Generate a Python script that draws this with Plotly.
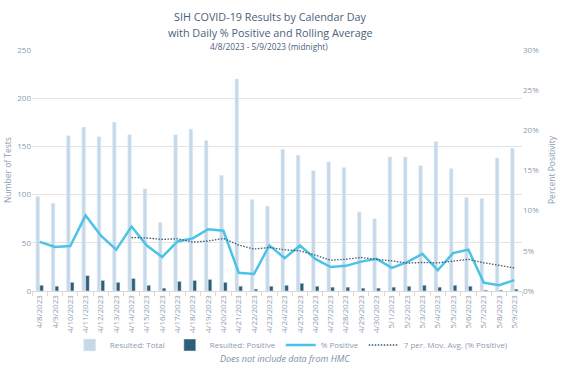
import plotly.graph_objects as go

dates = ["4/8/2023","4/9/2023","4/10/2023","4/11/2023","4/12/2023","4/13/2023","4/14/2023",
         "4/15/2023","4/16/2023","4/17/2023","4/18/2023","4/19/2023","4/20/2023","4/21/2023",
         "4/22/2023","4/23/2023","4/24/2023","4/25/2023","4/26/2023","4/27/2023","4/28/2023",
         "4/29/2023","4/30/2023","5/1/2023","5/2/2023","5/3/2023","5/4/2023","5/5/2023",
         "5/6/2023","5/7/2023","5/8/2023","5/9/2023"]
total = [98,91,161,170,160,175,162,106,71,162,168,156,120,220,95,88,147,141,125,134,128,82,75,
         139,139,130,155,127,97,96,138,148]
positive = [6,5,9,16,11,9,13,6,3,10,11,12,9,5,2,5,6,8,5,4,4,3,3,4,5,6,4,6,5,1,1,2]
pct_positive = [6.12,5.49,5.59,9.41,6.88,5.14,8.02,5.66,4.23,6.17,6.55,7.69,7.50,2.27,2.11,5.68,
                4.08,5.67,4.00,2.99,3.13,3.66,4.00,2.88,3.60,4.62,2.58,4.72,5.15,1.04,0.72,1.35]
mov_avg = [None,None,None,None,None,None,6.66,6.60,6.42,6.50,6.09,6.21,6.55,5.72,5.22,5.42,
           5.13,5.00,4.47,3.83,3.95,4.17,3.93,3.76,3.47,3.55,3.50,3.72,3.94,3.51,3.20,2.88]

FONT = "Open Sans"
GRAY = "#8c9cb0"
TITLE = "#4a6178"
W, H = 575, 369
L, R = 32, 522     # plot area left/right on the page
T, B = 50, 78
PH = H - T - B

fig = go.Figure()
fig.add_trace(go.Bar(x=dates, y=total, name="Resulted: Total", marker_color="#c6d9e8",
                     yaxis="y"))
fig.add_trace(go.Bar(x=dates, y=positive, name="Resulted: Positive", marker_color="#2f5f78",
                     yaxis="y"))
fig.add_trace(go.Scatter(x=dates, y=[v / 100 for v in pct_positive], name="% Positive",
                         mode="lines", line=dict(color="#4cc3e6", width=2.5), yaxis="y2"))
fig.add_trace(go.Scatter(x=dates, y=[None if v is None else v / 100 for v in mov_avg],
                         name="7 per. Mov. Avg. (% Positive)", mode="lines",
                         line=dict(color="#3b5a72", width=1.3, dash="1.5px,1.5px"),
                         yaxis="y2"))

fig.update_layout(
    width=W, height=H,
    margin=dict(l=L, r=W - R, t=T, b=B, autoexpand=False),
    paper_bgcolor="white", plot_bgcolor="white",
    barmode="group", bargap=0.5, bargroupgap=0.05,
    font=dict(family=FONT, color=GRAY, size=8),
    showlegend=True,
    legend=dict(orientation="h", x=0.53, xanchor="center", yref="container",
                y=1 - 345 / H, yanchor="middle", bgcolor="rgba(0,0,0,0)",
                font=dict(size=8, color=GRAY), traceorder="normal",
                itemwidth=30, tracegroupgap=0),
    xaxis=dict(type="category", tickangle=-90, tickfont=dict(size=8, color=GRAY),
               showgrid=False, showline=True, linecolor="#d9d9d9", linewidth=1,
               ticks="outside", ticklen=4, tickcolor="#d9d9d9", tickson="boundaries",
               automargin=False),
    yaxis=dict(range=[0, 250], dtick=50, showgrid=True, gridcolor="#e3e3e3", gridwidth=1,
               zeroline=False, tickfont=dict(size=8, color=GRAY), automargin=False),
    yaxis2=dict(range=[0, 0.30], dtick=0.05, tickformat=".0%", overlaying="y", side="right",
                showgrid=False, zeroline=False, tickfont=dict(size=8, color=GRAY),
                automargin=False),
)

def ann(text, xpx, ypx, size, color, angle=0):
    fig.add_annotation(text=text, xref="paper", yref="paper",
                       x=(xpx - L) / (R - L), y=(H - B - ypx) / PH,
                       xanchor="center", yanchor="middle", showarrow=False, textangle=angle,
                       font=dict(size=size, color=color, family=FONT))

ann("SIH COVID-19 Results by Calendar Day", 270, 16, 10.8, TITLE)
ann("with Daily % Positive and Rolling Average", 270, 32, 10.8, TITLE)
ann("4/8/2023 - 5/9/2023 (midnight)", 269, 46, 8.3, TITLE)
ann("<i>Does not include data from HMC</i>", 285, 358, 9, "#7d8fa6")
ann("Number of Tests", 7, 170, 8.5, GRAY, -90)
ann("Percent Positivity", 551, 170, 8.5, GRAY, -90)

fig.write_html("out.html", config={"displayModeBar": False},
               post_script="document.body.style.margin='0';document.body.style.padding='0';"
                           "document.body.style.overflow='hidden';")
